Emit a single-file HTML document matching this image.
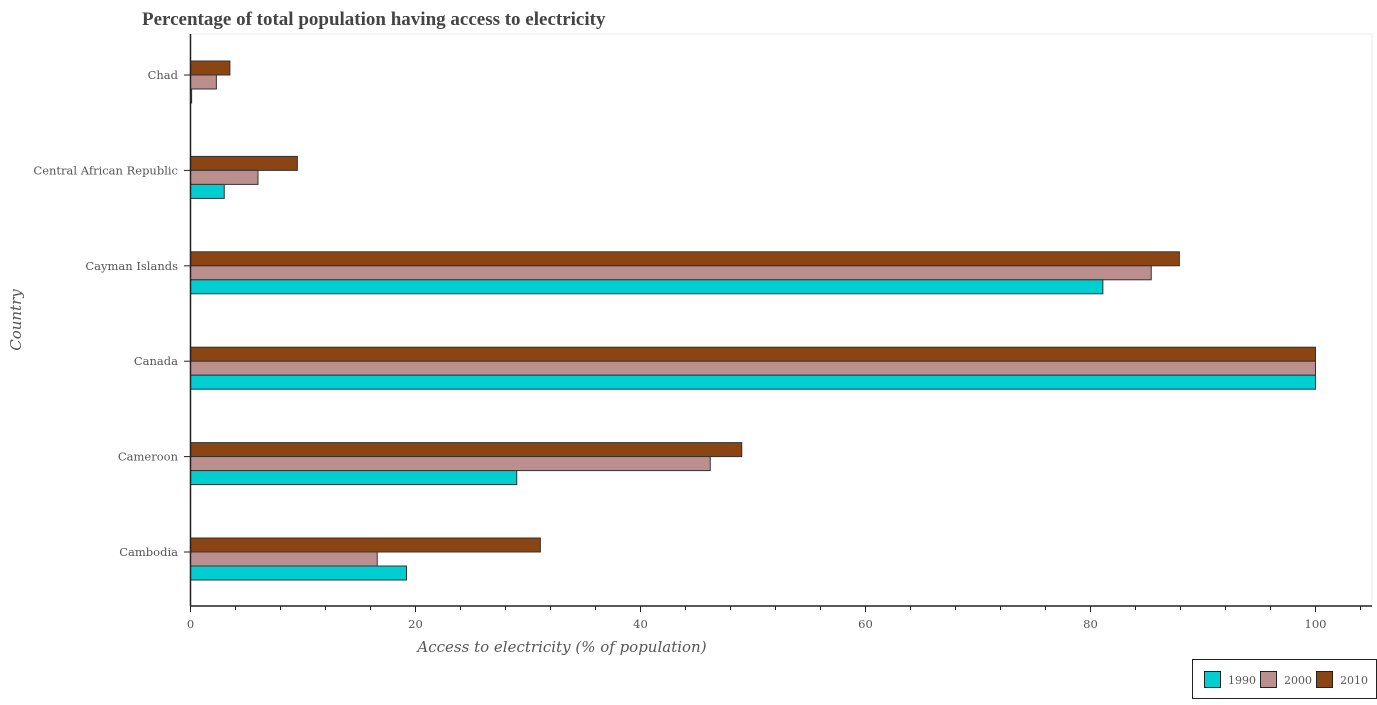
<!DOCTYPE html>
<html><head><meta charset="utf-8"><style>
body{margin:0;background:#fff;width:1377px;height:700px;overflow:hidden}
svg text{font-family:"DejaVu Serif","Liberation Serif",serif;fill:#555}
</style></head><body>
<svg id="chart" width="1377" height="700">
<text x="142" y="25" style="font-family:'Liberation Serif',serif;font-weight:bold;font-size:19px;fill:#444">Percentage of total population having access to electricity</text>
<rect x="190" y="34" width="1182" height="572" fill="none" stroke="#eee"/>
<g id="bars"></g>
<g id="axes"></g>
<text x="562" y="652" text-anchor="middle" style="font-style:italic;font-size:15px">Access to electricity (% of population)</text>
<text transform="translate(21,320) rotate(-90)" text-anchor="middle" style="font-style:italic;font-size:15px">Country</text>
<g>
<rect x="1192.5" y="659.5" width="184" height="39" fill="#fff" stroke="#222"/>
<rect x="1204.5" y="671.5" width="16" height="16" fill="#00CED1" stroke="#222"/>
<text x="1228" y="684" font-size="11">1990</text>
<rect x="1260.5" y="671.5" width="16" height="16" fill="#BC8F8F" stroke="#222"/>
<text x="1284" y="684" font-size="11">2000</text>
<rect x="1316.5" y="671.5" width="16" height="16" fill="#8B4513" stroke="#222"/>
<text x="1340" y="684" font-size="11">2010</text>
</g>
</svg>
<script>
const countries=["Cambodia","Cameroon","Canada","Cayman Islands","Central African Republic","Chad"];
const v1990=[19.2,29.0,100,81.1,3.0,0.1];
const v2000=[16.6,46.2,100,85.4,6.0,2.3];
const v2010=[31.1,49.0,100,87.9,9.5,3.5];
const xTicks=[0,20,40,60,80,100];
const NS="http://www.w3.org/2000/svg";
const x0=190.5,pxPer=11.25;
function xs(v){return x0+v*pxPer;}
function yc(i){return 552-i*95.4;}
const bars=document.getElementById('bars'),axes=document.getElementById('axes');
function mk(tag,attrs,parent){const e=document.createElementNS(NS,tag);for(const k in attrs)e.setAttribute(k,attrs[k]);parent.appendChild(e);return e;}
const series=[[v2010,"#8B4513",-14,"2010"],[v2000,"#BC8F8F",0,"2000"],[v1990,"#00CED1",14,"1990"]];
countries.forEach((c,i)=>{
  series.forEach(s=>{
    const r=mk('rect',{x:xs(0),y:yc(i)+s[2],width:Math.max(xs(s[0][i])-xs(0),0.5),height:14,fill:s[1],stroke:"#333","stroke-width":1},bars);
    
    
  });
  const t=mk('text',{x:178,y:yc(i)+4,"text-anchor":"end","font-size":11.5},axes);
  t.textContent=c;
  
  
  mk('line',{x1:184,x2:190.5,y1:yc(i),y2:yc(i),stroke:"#222"},axes);
});
mk('line',{x1:190.5,x2:190.5,y1:34,y2:606,stroke:"#222","stroke-width":1.5},axes);
mk('line',{x1:190.5,x2:1372,y1:606,y2:606,stroke:"#222","stroke-width":1.5},axes);
for(let v=0;v<=104;v+=4){mk('line',{x1:xs(v),x2:xs(v),y1:606,y2:v%20===0?612:610,stroke:"#222"},axes);}
xTicks.forEach(v=>{
  const t=mk('text',{x:xs(v),y:628,"text-anchor":"middle","font-size":11.5},axes);
  t.textContent=v;
  
  
});
</script>
</body></html>
